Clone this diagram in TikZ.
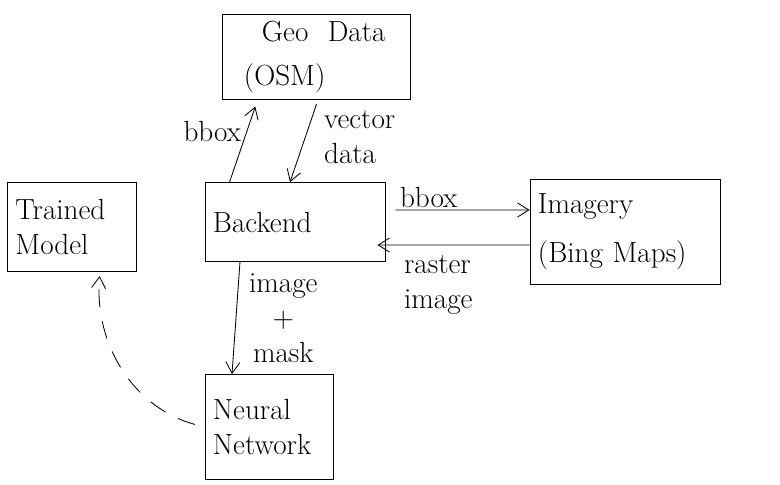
\documentclass[tikz,border=0pt]{standalone}
\usepackage{xcolor}
\usepackage{tikz}
\usetikzlibrary{arrows.meta,positioning,calc}

\begin{document}
\begin{tikzpicture}[x=0.025cm, y=-0.025cm, font=\huge, line width=0.6pt,
    block/.style={rectangle, draw, text width=#1, inner xsep=0.2cm, align=left},
    arr/.style={-{Straight Barb[length=8pt, width=10pt]}},
    lbl/.style={align=left, inner sep=1pt}]
\useasboundingbox (0,0) rectangle (780,485);

\node[block=4.3cm, minimum height=2.125cm] (geo) at (316,57) {\hspace{0.8cm}Geo\ \ Data\\[6pt]\hspace{0.35cm}(OSM)};
\node[block=4.1cm, minimum height=1.975cm] (backend) at (295,222) {Backend};
\node[block=2.825cm, minimum height=2.225cm] (trained) at (72,227) {Trained\\ Model};
\node[block=4.35cm, minimum height=2.625cm] (imagery) at (625,232) {Imagery\\[10pt](Bing Maps)};
\node[block=2.8cm, minimum height=2.625cm] (neural) at (269,427) {Neural\\Network};

\draw[arr, shorten >=5pt] ([xshift=0.625cm]backend.north west) -- ([xshift=0.9cm]geo.south west)
    node[lbl, pos=0.62, left=3pt] {bbox};
\draw[arr, shorten <=3pt] ([xshift=0.05cm]geo.south) -- ([xshift=-0.125cm]backend.north)
    node[lbl, pos=0.45, right=12pt] {vector\\data};
\draw[arr, shorten <=0.25cm] ([yshift=0.3cm]backend.east) -- ([yshift=0.55cm]imagery.west)
    node[lbl, pos=0.3, above] {bbox};
\draw[arr] ([yshift=-0.325cm]imagery.west) -- ([yshift=-0.575cm, xshift=-0.2cm]backend.east)
    node[lbl, pos=0.6, below=6pt] {raster\\image};
\draw[arr] ([xshift=-1.375cm]backend.south) -- ([xshift=-0.925cm]neural.north)
    node[pos=0.5, right=8pt, align=center, inner sep=1pt] {image\\+\\mask};
\draw[arr, dash pattern=on 0.45cm off 0.35cm, shorten <=0.25cm, shorten >=3pt]
    (neural.west) to[out=165, in=-95] ([xshift=0.7cm]trained.south);
\end{tikzpicture}
\end{document}
